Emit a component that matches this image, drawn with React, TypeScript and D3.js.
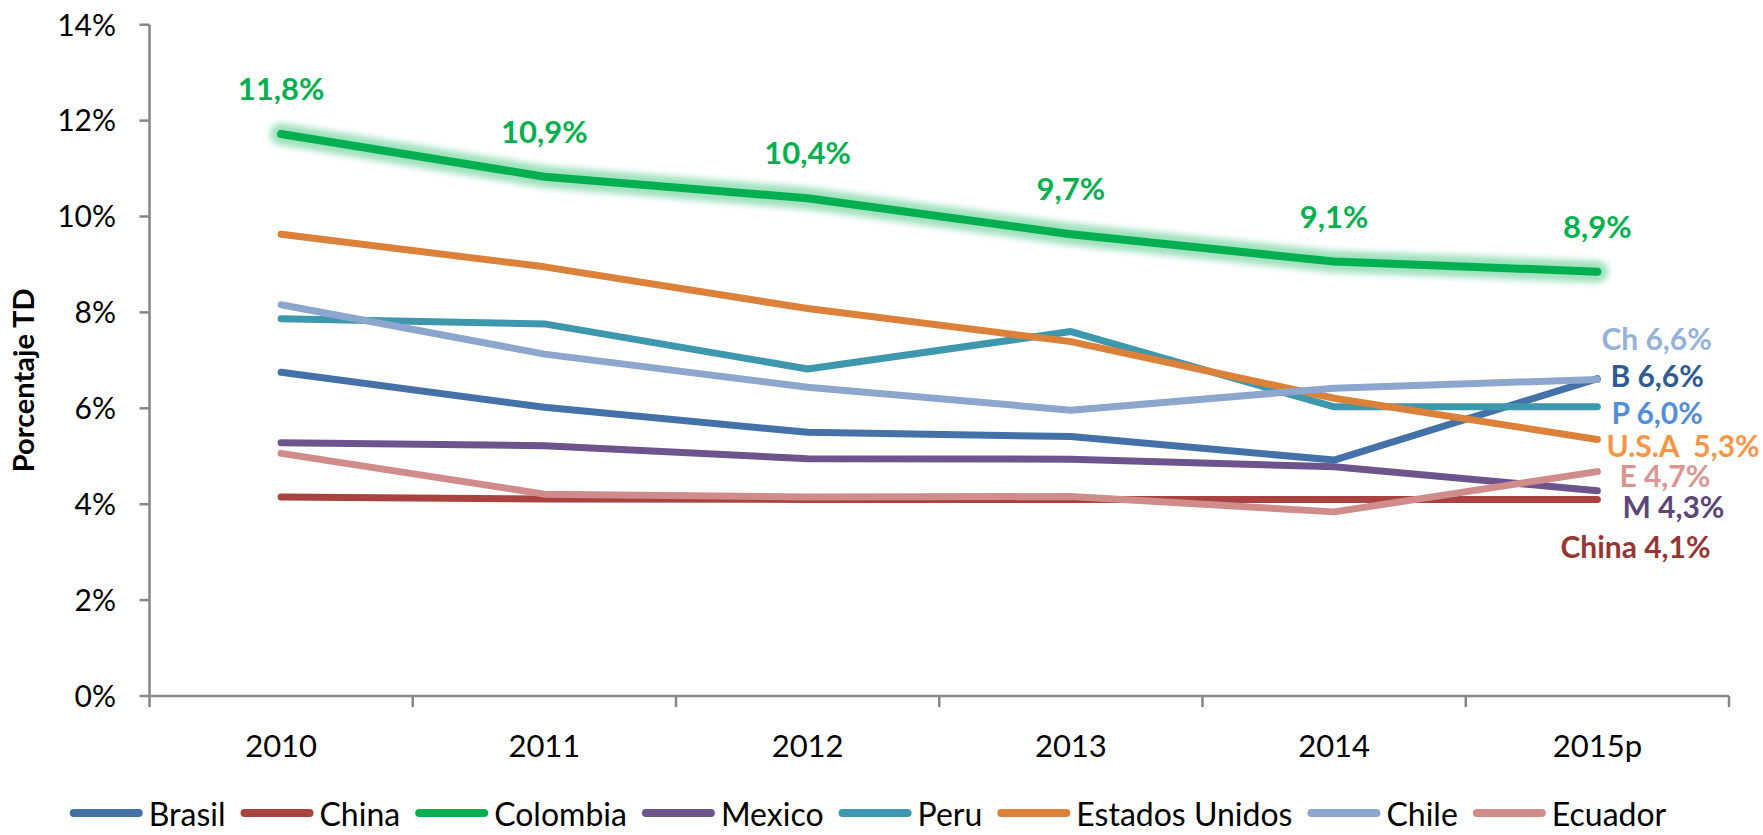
import React, { useEffect, useRef } from "react";
import * as d3 from "d3";

// categories
const years = ["2010", "2011", "2012", "2013", "2014", "2015p"];

// series values (%)
const brasil = [6.75, 6.02, 5.5, 5.41, 4.92, 6.62];
const china = [4.15, 4.11, 4.1, 4.1, 4.1, 4.1];
const colombia = [11.72, 10.83, 10.38, 9.63, 9.06, 8.85];
const mexico = [5.28, 5.22, 4.95, 4.94, 4.78, 4.28];
const peru = [7.87, 7.76, 6.82, 7.6, 6.03, 6.03];
const estadosUnidos = [9.63, 8.95, 8.08, 7.39, 6.21, 5.35];
const chile = [8.16, 7.13, 6.44, 5.96, 6.42, 6.6];
const ecuador = [5.06, 4.21, 4.15, 4.16, 3.84, 4.68];

const seriesNames = ["Brasil", "China", "Colombia", "Mexico", "Peru", "Estados Unidos", "Chile", "Ecuador"];
const seriesColors = ["#4471a7", "#a9433f", "#00b050", "#6e548d", "#3f97ae", "#db813a", "#8da6cd", "#d08c8b"];

const yTicks = [0, 2, 4, 6, 8, 10, 12, 14];
const colombiaLabels = ["11,8%", "10,9%", "10,4%", "9,7%", "9,1%", "8,9%"];

// end-of-line labels (one per series, Colombia has none)
const endLabels = ["B 6,6%", "China 4,1%", "", "M 4,3%", "P 6,0%", "U.S.A  5,3%", "Ch 6,6%", "E 4,7%"];
const endLabelColors = ["#2f5b93", "#953735", "", "#5b4579", "#558ed5", "#f79646", "#95b3d7", "#d99694"];
const endLabelOffsets = [[13, -2], [-37, 48], [0, 0], [25, 16], [14, 6], [9, 7], [4, -40], [22, 5]];

const W = 1763, H = 835;

export default function App() {
  const ref = useRef<SVGSVGElement>(null);

  useEffect(() => {
    const svg = d3.select(ref.current);
    svg.selectAll("*").remove();

    const values = [brasil, china, colombia, mexico, peru, estadosUnidos, chile, ecuador];
    const left = 149.5, right = 1729, top = 24.7, bottom = 696;

    const x = d3.scaleBand().domain(years).range([left, right]).padding(0);
    const y = d3.scaleLinear().domain([0, 14]).range([bottom, top]);
    const cx = (d: string) => (x(d) as number) + x.bandwidth() / 2;

    const defs = svg.append("defs");
    defs.append("filter").attr("id", "glow")
      .attr("x", "-10%").attr("y", "-50%").attr("width", "120%").attr("height", "200%")
      .append("feGaussianBlur").attr("stdDeviation", 3);

    const axisColor = "#868686";

    // y axis
    svg.append("line")
      .attr("x1", left).attr("x2", left).attr("y1", top).attr("y2", bottom)
      .attr("stroke", axisColor).attr("stroke-width", 2.5);
    svg.selectAll(".ytick").data(yTicks).join("line")
      .attr("class", "ytick")
      .attr("x1", left - 10).attr("x2", left)
      .attr("y1", d => y(d)).attr("y2", d => y(d))
      .attr("stroke", axisColor).attr("stroke-width", 2.5);
    svg.selectAll(".ylab").data(yTicks).join("text")
      .attr("class", "ylab")
      .attr("x", 116).attr("y", d => y(d)).attr("dy", "0.36em")
      .attr("text-anchor", "end")
      .style("font-family", "Lato, sans-serif").style("font-size", "30px").attr("fill", "#000")
      .text(d => d + "%");

    svg.append("text")
      .attr("transform", `translate(34, ${(top + bottom) / 2 + 20}) rotate(-90)`)
      .attr("text-anchor", "middle")
      .style("font-family", "Lato, sans-serif").style("font-size", "29px").style("font-weight", "bold")
      .attr("fill", "#000")
      .text("Porcentaje TD");

    // x axis
    svg.append("line")
      .attr("x1", left).attr("x2", right).attr("y1", bottom).attr("y2", bottom)
      .attr("stroke", axisColor).attr("stroke-width", 2.5);
    const bounds = years.map(d => x(d) as number).concat([right]);
    svg.selectAll(".xtick").data(bounds).join("line")
      .attr("class", "xtick")
      .attr("x1", d => d).attr("x2", d => d).attr("y1", bottom).attr("y2", bottom + 11)
      .attr("stroke", axisColor).attr("stroke-width", 2.5);
    svg.selectAll(".xlab").data(years).join("text")
      .attr("class", "xlab")
      .attr("x", d => cx(d)).attr("y", 757)
      .attr("text-anchor", "middle")
      .style("font-family", "Lato, sans-serif").style("font-size", "31px").attr("fill", "#000")
      .text(d => d);

    const line = d3.line<number>().x((_, i) => cx(years[i])).y(d => y(d));

    // Colombia glow
    svg.append("path")
      .attr("d", line(colombia))
      .attr("fill", "none").attr("stroke", "#00b050").attr("stroke-opacity", 0.38)
      .attr("stroke-width", 22).attr("stroke-linejoin", "round").attr("stroke-linecap", "round")
      .attr("filter", "url(#glow)");

    values.forEach((v, i) => {
      svg.append("path")
        .attr("d", line(v))
        .attr("fill", "none")
        .attr("stroke", seriesColors[i])
        .attr("stroke-width", i === 2 ? 8 : 7)
        .attr("stroke-linejoin", "round")
        .attr("stroke-linecap", "round");
    });

    // Colombia data labels
    svg.selectAll(".collab").data(colombia).join("text")
      .attr("class", "collab")
      .attr("x", (_, i) => cx(years[i])).attr("y", d => y(d) - 45).attr("dy", "0.36em")
      .attr("text-anchor", "middle")
      .style("font-family", "Lato, sans-serif").style("font-size", "31px").style("font-weight", "bold")
      .attr("fill", "#00b050")
      .text((_, i) => colombiaLabels[i]);

    // end labels
    const last = years.length - 1;
    values.forEach((v, i) => {
      if (!endLabels[i]) return;
      svg.append("text")
        .attr("x", cx(years[last]) + endLabelOffsets[i][0])
        .attr("y", y(v[last]) + endLabelOffsets[i][1])
        .attr("dy", "0.36em")
        .style("white-space", "pre")
        .style("font-family", "Lato, sans-serif").style("font-size", "30px").style("font-weight", "bold")
        .attr("fill", endLabelColors[i])
        .text(endLabels[i]);
    });

    // legend
    const lg = svg.append("g");
    let pos = 0;
    const swatch = 73;
    seriesNames.forEach((name, i) => {
      lg.append("line")
        .attr("x1", pos + 4).attr("x2", pos + swatch - 4).attr("y1", 813).attr("y2", 813)
        .attr("stroke", seriesColors[i]).attr("stroke-width", 8).attr("stroke-linecap", "round");
      const t = lg.append("text")
        .attr("x", pos + swatch + 6).attr("y", 826)
        .style("font-family", "Lato, sans-serif").style("font-size", "32px").attr("fill", "#000")
        .text(name);
      const tw = (t.node() as SVGTextElement).getComputedTextLength();
      pos += swatch + 6 + tw + 15;
    });
    const total = pos - 15;
    lg.attr("transform", `translate(${868 - total / 2}, 0)`);
  }, []);

  return (
    <svg ref={ref} width={W} height={H}
      style={{ position: "absolute", left: 0, top: 0, display: "block", background: "#fff" }} />
  );
}
